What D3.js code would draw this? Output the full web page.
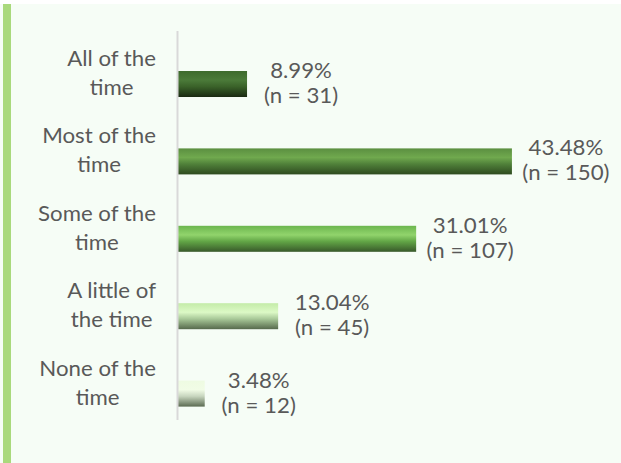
<!DOCTYPE html>
<html><head><meta charset="utf-8">
<script src="https://cdn.jsdelivr.net/npm/d3@7/dist/d3.min.js"></script>
<style>
html,body{margin:0;padding:0;background:#fff;}
svg{display:block;}
text{font-family:Lato, "Noto Sans", sans-serif;fill:#595959;}
</style></head>
<body><svg id="chart" width="621" height="463"></svg>
<script>
const categories = [["All of the","time"],["Most of the","time"],["Some of the","time"],["A little of","the time"],["None of the","time"]];
const percents = [8.99, 43.48, 31.01, 13.04, 3.48];
const counts = [31, 150, 107, 45, 12];
const barColors = [
  ["#3d6a2c","#4b7a39","#3a6229","#1a2a12"],
  ["#5b8f40","#70a94e","#50813a","#2e4a1f"],
  ["#6cb64e","#91d46c","#62a646","#38592a"],
  ["#c4eca8","#dcf9c6","#a9c999","#56694c"],
  ["#eefbe2","#f1fce6","#c8d6bf","#5b6b52"]
];

const FS = 21, SX = 1.06;
const svg = d3.select("#chart");
svg.append("rect").attr("x",0).attr("y",4).attr("width",621).attr("height",459).attr("fill","#f6fdf6");
svg.append("rect").attr("x",3).attr("y",4).attr("width",8).attr("height",459).attr("fill","#a9d97c");

const x = d3.scaleLinear().domain([0,50]).range([178,562]);
const y = d3.scaleBand().domain(d3.range(categories.length)).range([45.3,432.3]).paddingInner(0.664).paddingOuter(0.332);

const defs = svg.append("defs");
barColors.forEach((c,i)=>{
  const g = defs.append("linearGradient").attr("id","g"+i).attr("x1",0).attr("x2",0).attr("y1",0).attr("y2",1);
  [[0,c[0]],[0.35,c[1]],[0.6,c[2]],[1,c[3]]].forEach(s=>g.append("stop").attr("offset",s[0]).attr("stop-color",s[1]));
});

svg.selectAll("rect.bar").data(percents).join("rect").attr("class","bar")
  .attr("x",x(0)).attr("y",(d,i)=>y(i)).attr("width",d=>x(d)-x(0)).attr("height",y.bandwidth())
  .attr("fill",(d,i)=>`url(#g${i})`);

// axis line
svg.append("line").attr("x1",177.5).attr("x2",177.5).attr("y1",31).attr("y2",420)
  .attr("stroke","#d9d9d9").attr("stroke-width",2);

function place(t, cx, yy){ t.attr("transform",`translate(${cx},${yy}) scale(${SX},1)`); }

// category labels
categories.forEach((lines,i)=>{
  const cy = y(i)+y.bandwidth()/2;
  const g = svg.append("g");
  const t = lines.map(l=>g.append("text").attr("text-anchor","middle").attr("font-size",FS).text(l));
  const w = d3.max(t,e=>e.node().getComputedTextLength())*SX;
  t.forEach((e,k)=>place(e,156-w/2,cy-18+k*29));
});

// value labels
percents.forEach((p,i)=>{
  const cy = y(i)+y.bandwidth()/2;
  const l1 = p.toFixed(2)+"%", l2 = `(n = ${counts[i]})`;
  const g = svg.append("g");
  [l1,l2].forEach((l,k)=>{
    const e = g.append("text").attr("text-anchor","middle").attr("font-size",FS).text(l);
    place(e, x(p)+54, cy-6+k*25);
  });
});
</script></body></html>
